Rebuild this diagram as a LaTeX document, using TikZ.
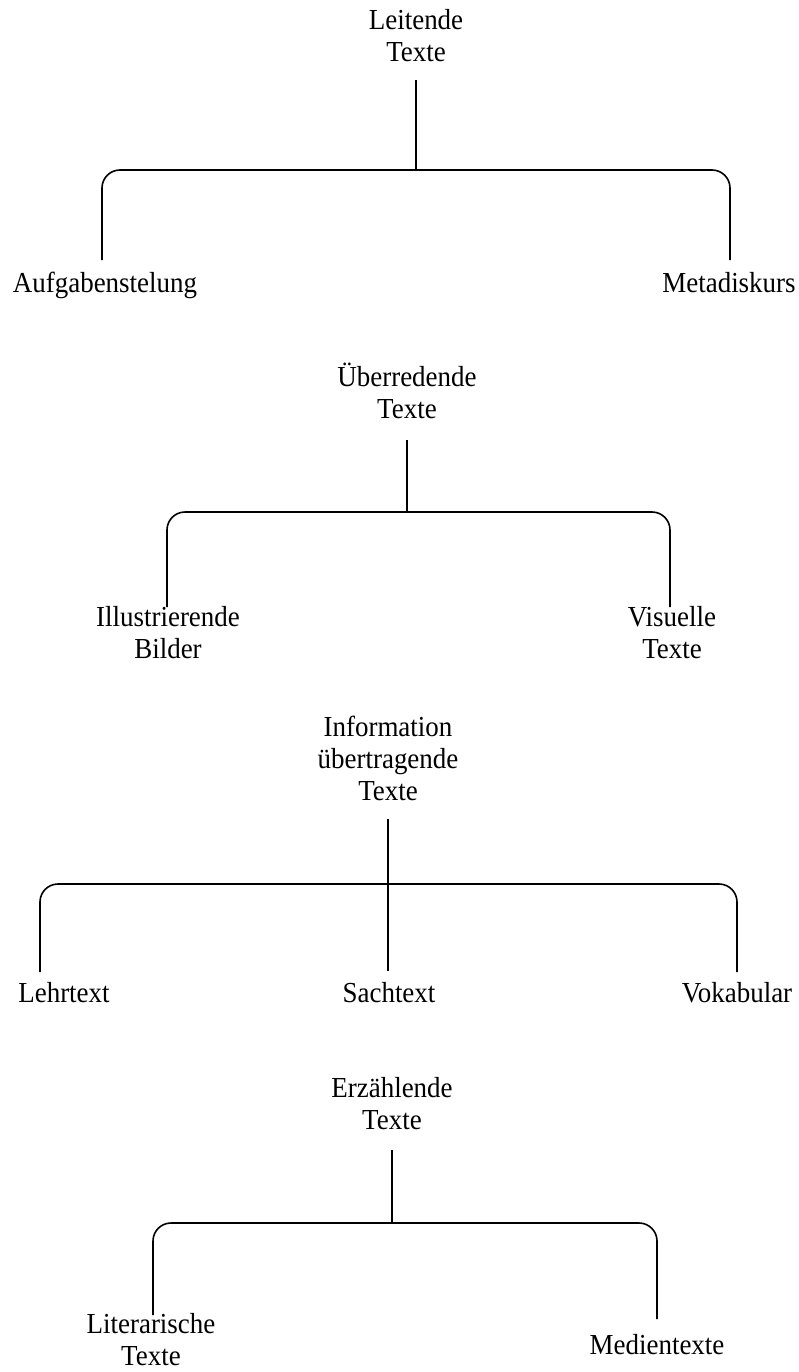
\documentclass[tikz,border=0pt]{standalone}
\usepackage{fontspec}
\setmainfont{Liberation Serif}[FakeStretch=0.93]
\begin{document}
\begin{tikzpicture}[x=1pt,y=-1pt,
  lbl/.style={font=\fontsize{29}{32}\selectfont, inner sep=0pt, align=center, text=black},
  conn/.style={draw=black, line width=1.6pt},
  bar/.style={conn, rounded corners=18pt}]
\useasboundingbox (0,0) rectangle (798,1372);

% ---- group 1
\node[lbl, anchor=south] (p1) at (416,62) {Leitende\\Texte};
\node[lbl, anchor=base] (c1a) at (105,292) {Aufgabenstelung};
\node[lbl, anchor=base] (c1b) at (729,292) {Metadiskurs};
\coordinate (j1) at (416,170);
\coordinate (e1a) at (102,260);
\coordinate (e1b) at (730,260);
\draw[conn, shorten <=18pt] (p1.south) -- (j1);
\draw[bar] (e1a) |- (j1) -| (e1b);

% ---- group 2
\node[lbl, anchor=south] (p2) at (407,419) {Überredende\\Texte};
\node[lbl, anchor=south] (c2a) at (168,659) {Illustrierende\\Bilder};
\node[lbl, anchor=south] (c2b) at (672,659) {Visuelle\\Texte};
\coordinate (j2) at (407,512);
\coordinate (e2a) at (167,607);
\coordinate (e2b) at (670,607);
\draw[conn, shorten <=21pt] (p2.south) -- (j2);
\draw[bar] (e2a) |- (j2) -| (e2b);

% ---- group 3
\node[lbl, anchor=south] (p3) at (388,801) {Information\\übertragende\\Texte};
\node[lbl, anchor=base] (c3a) at (64,1002) {Lehrtext};
\node[lbl, anchor=base] (c3b) at (389,1002) {Sachtext};
\node[lbl, anchor=base] (c3c) at (737,1002) {Vokabular};
\coordinate (j3) at (388,884);
\coordinate (e3a) at (40,972);
\coordinate (e3c) at (737,972);
\draw[conn, shorten <=18pt, shorten >=11pt] (p3.south) -- (p3.south |- c3b.north);
\draw[bar] (e3a) |- (j3) -| (e3c);

% ---- group 4
\node[lbl, anchor=south] (p4) at (392,1130) {Erzählende\\Texte};
\node[lbl, anchor=south] (c4a) at (151,1366) {Literarische\\Texte};
\node[lbl, anchor=base] (c4b) at (657,1354) {Medientexte};
\coordinate (j4) at (392,1223);
\coordinate (e4a) at (153,1315);
\coordinate (e4b) at (657,1319);
\draw[conn, shorten <=20pt] (p4.south) -- (j4);
\draw[bar] (e4a) |- (j4) -| (e4b);
\end{tikzpicture}
\end{document}
